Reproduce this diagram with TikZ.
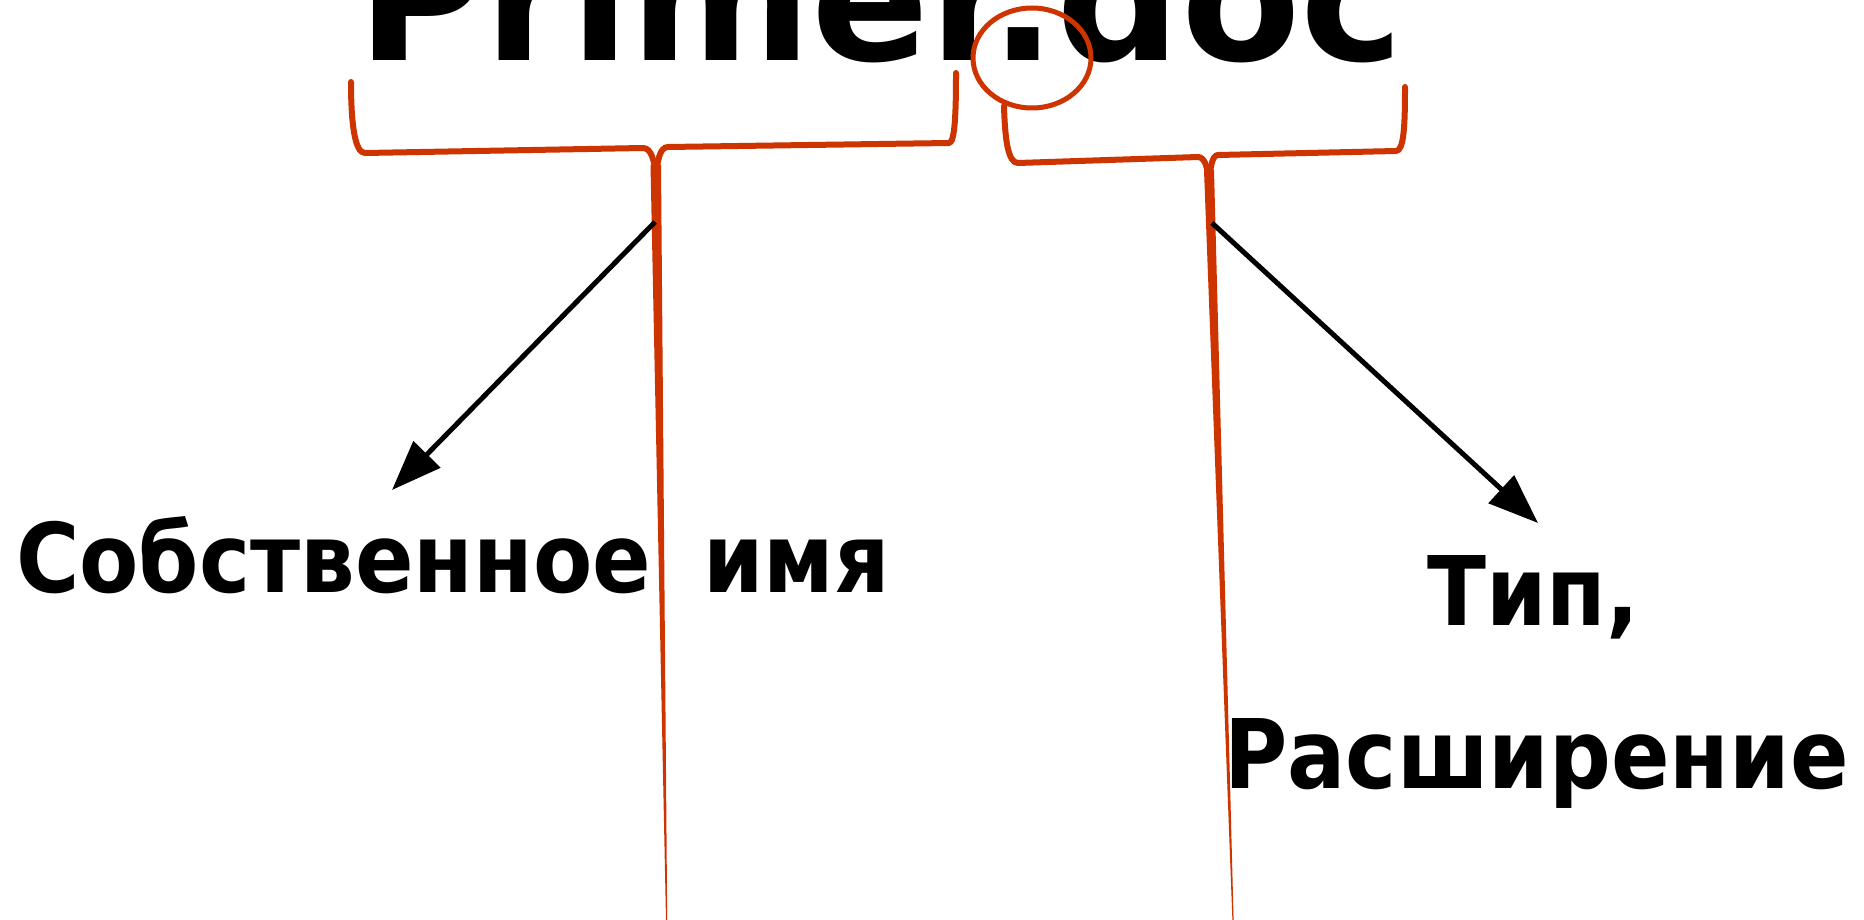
\documentclass[tikz,border=0pt]{standalone}
\usepackage{fontspec}
\setmainfont{DejaVu Sans}
\usetikzlibrary{arrows.meta}
\definecolor{brc}{RGB}{205,52,0}
\tikzset{
  bracestroke/.style={draw=brc, line width=6pt, line join=round, line cap=round},
  tailfill/.style={fill=brc, draw=none},
  ptr/.style={draw=black, line width=5pt, -{Triangle[length=50pt,width=37pt]}},
  titletext/.style={inner sep=0pt, anchor=base west, font=\fontsize{174}{190}\selectfont\bfseries},
  labtext/.style={inner sep=0pt, anchor=base west, font=\fontsize{96}{110}\selectfont\bfseries}
}
\newcommand{\narrowtxt}[1]{\scalebox{0.9}[1]{#1}}
\begin{document}
\begin{tikzpicture}[x=1pt,y=-1pt]
\useasboundingbox (0,0) rectangle (1864,920);
\clip (0,0) rectangle (1864,920);
\fill[white] (0,0) rectangle (1864,920);
% title
\node[titletext] (title) at (357,61) {Primer.doc};
% left brace
\draw[bracestroke] (351,82) .. controls (351,125) and (355,153) .. (365,153)
  -- (643,148) .. controls (651,148) and (655,160) .. (656,180);
\draw[bracestroke] (956,73) .. controls (956,112) and (955,143) .. (949,143)
  -- (668,147) .. controls (660,147) and (657,160) .. (656,180);
\fill[tailfill] (650.5,165) -- (661,165) -- (667.2,920) -- (666,920) -- cycle;
% ellipse around dot
\draw[draw=brc, line width=5pt] (1032,58) ellipse [x radius=59, y radius=50];
% right brace
\draw[bracestroke] (1004,106) .. controls (1005,140) and (1008,163) .. (1018,163)
  -- (1198,157) .. controls (1205,157) and (1208,168) .. (1209,185);
\draw[bracestroke] (1405,87) .. controls (1405,125) and (1404,151) .. (1396,151)
  -- (1218,155) .. controls (1212,155) and (1210,168) .. (1209,185);
\fill[tailfill] (1204,170) -- (1214,170) -- (1233.6,920) -- (1232.4,920) -- cycle;
% labels
\node[labtext] (own) at (16,592) {\narrowtxt{Собственное\hspace*{58pt}имя}};
\node[labtext] (tip) at (1427,625) {\narrowtxt{Тип,}};
\node[labtext] (ext) at (1224,788) {\narrowtxt{Расширение}};
% arrows
\coordinate (lstart) at (655,222);
\coordinate (lend) at (392,490);
\coordinate (rstart) at (1212,223);
\coordinate (rend) at (1538,523);
\draw[ptr] (lstart) -- (lend);
\draw[ptr] (rstart) -- (rend);
\end{tikzpicture}
\end{document}
